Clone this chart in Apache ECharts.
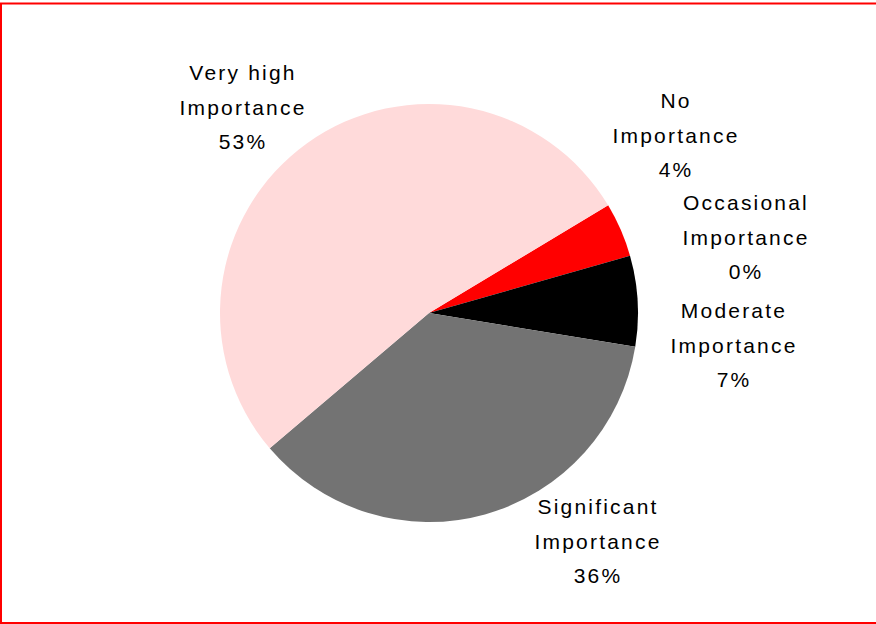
<!DOCTYPE html>
<html>
<head>
<meta charset="utf-8">
<script src="https://cdn.jsdelivr.net/npm/echarts@6/dist/echarts.min.js"></script>
<style>
  html, body { margin: 0; padding: 0; background: #fff; }
  #chart { width: 876px; height: 624px; }
  #chart text { letter-spacing: 2.2px; }
</style>
</head>
<body>
<div id="chart"></div>
<script>
// Data
const categories = ['No\nImportance', 'Occasional\nImportance', 'Moderate\nImportance', 'Significant\nImportance', 'Very high\nImportance'];
const values = [4.2, 0, 7.0, 36.2, 52.6];
const colors = ['#FF0000', '#FFFFFF', '#000000', '#737373', '#FFDADA'];

// Label anchor layout (centre of each label block)
const labelAnchors = [[676, 135], [746, 237], [734, 345], [598, 541], [243, 107]];

const chart = echarts.init(document.getElementById('chart'), null, { renderer: 'svg' });
chart.setOption({
  animation: false,
  backgroundColor: '#fff',
  graphic: [{
    type: 'rect',
    shape: { x: 1, y: 3.5, width: 900, height: 619.5 },
    style: { fill: 'none', stroke: '#FF0000', lineWidth: 2 },
    silent: true
  }],
  series: [{
    type: 'pie',
    center: [429, 313],
    radius: 209,
    startAngle: 31,
    clockwise: true,
    avoidLabelOverlap: false,
    emphasis: { disabled: true },
    itemStyle: { borderWidth: 0 },
    labelLine: { show: false },
    label: {
      show: true,
      position: 'outside',
      color: '#000',
      fontFamily: 'Liberation Sans, Arial, sans-serif',
      fontSize: 21,
      lineHeight: 34.5,
      align: 'center',
      formatter: function (p) { return p.name + '\n' + Math.round(p.percent) + '%'; }
    },
    labelLayout: function (p) {
      const a = labelAnchors[p.dataIndex];
      return { x: a[0], y: a[1], align: 'center', verticalAlign: 'middle' };
    },
    data: categories.map((c, i) => ({ name: c, value: values[i], itemStyle: { color: colors[i] } }))
  }]
});
</script>
</body>
</html>
